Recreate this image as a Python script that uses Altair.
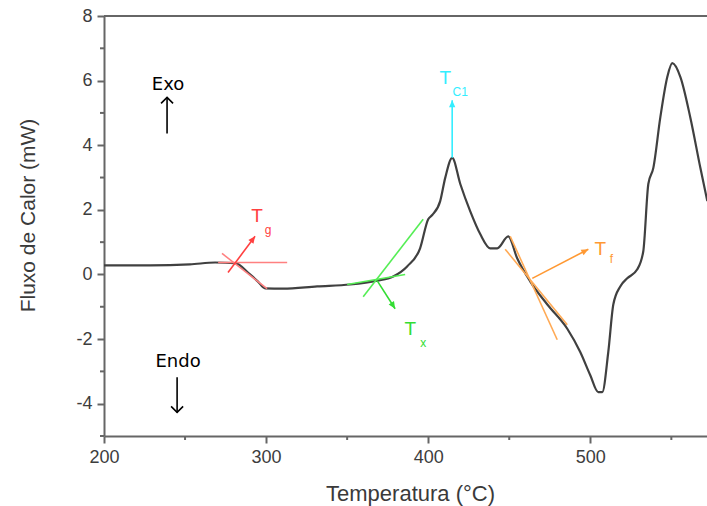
import altair as alt
import pandas as pd

# DSC curve
temp = [200, 228.4, 253, 268.5, 280.9, 290.1, 295, 299.4, 310.5, 331.5, 351.9, 368.5, 378.4,
        387, 395, 400, 402.5, 407.4, 410.5, 414.8, 419.8, 425.9, 432.1, 438.3, 442.6, 449.4,
        454.9, 463, 473.5, 485.8, 493.8, 500, 504.9, 507.4, 511.1, 514.2, 518.5, 522.8, 529,
        532.7, 535.8, 538.9, 543.2, 547.5, 550.6, 555.6, 561.7, 567.9, 572.2]
flow = [0.28, 0.28, 0.31, 0.37, 0.35, 0.0, -0.22, -0.43, -0.44, -0.37, -0.31, -0.19, -0.06,
        0.25, 0.81, 1.71, 1.84, 2.27, 2.99, 3.61, 2.80, 1.96, 1.25, 0.81, 0.81, 1.18,
        0.50, -0.22, -0.93, -1.68, -2.40, -3.12, -3.64, -3.64, -2.40, -0.93, -0.37, -0.12, 0.16,
        0.72, 2.80, 3.30, 4.86, 6.11, 6.54, 6.11, 4.86, 3.30, 2.27]

# axis ticks
x_major = [200, 300, 400, 500]
x_minor = [250, 350, 450, 550]
y_major = [-4, -2, 0, 2, 4, 6, 8]
y_minor = [-5, -3, -1, 1, 3, 5, 7]

# annotation segments: id, x, y, colour
seg_id = ["g1", "g1", "g2", "g2", "g3", "g3",
          "x1", "x1", "x2", "x2", "x3", "x3",
          "c1", "c1",
          "f1", "f1", "f2", "f2", "f3", "f3"]
seg_x = [270.4, 313, 272.8, 300.6, 276.5, 293.2,
         350, 385.8, 359.9, 396.9, 368.5, 379.6,
         414.8, 414.8,
         450.6, 479.6, 447.5, 485.8, 464.2, 498.8]
seg_y = [0.37, 0.37, 0.65, -0.44, 0.06, 1.18,
         -0.31, 0.0, -0.69, 1.71, -0.19, -1.06,
         3.61, 5.39,
         1.18, -2.02, 0.78, -1.56, -0.12, 0.78]
seg_col = ["#ff8080", "#ff8080", "#ff8080", "#ff8080", "#ff4040", "#ff4040",
           "#55ee55", "#55ee55", "#55ee55", "#55ee55", "#33dd33", "#33dd33",
           "#33eeff", "#33eeff",
           "#ffaa55", "#ffaa55", "#ffaa55", "#ffaa55", "#ff9933", "#ff9933"]

# arrow heads
head_x = [293.2, 379.6, 414.8, 498.8]
head_y = [1.18, -1.06, 5.39, 0.78]
head_ang = [36.5, 147.3, 0, 62.6]
head_col = ["#ff4040", "#33dd33", "#33eeff", "#ff9933"]

# labels
lab_text = ["T", "g", "T", "x", "T", "C1", "T", "f"]
lab_x = [294.4, 301.2, 388.9, 396.9, 410.5, 419.8, 506.2, 513.0]
lab_y = [1.81, 1.37, -1.68, -2.12, 6.07, 5.64, 0.78, 0.47]
lab_size = [19, 12, 19, 12, 19, 12, 19, 12]
lab_col = ["#ff4040", "#ff4040", "#33dd33", "#33dd33", "#33eeff", "#33eeff", "#ff9933", "#ff9933"]

# Exo / Endo
ee_text = ["Exo", "Endo"]
ee_x = [239.5, 245.7]
ee_y = [5.86, -2.71]
ee_arrow_id = ["exo", "exo", "endo", "endo"]
ee_arrow_x = [238.9, 238.9, 245.1, 245.1]
ee_arrow_y = [4.36, 5.48, -3.18, -4.27]
ee_head_x = [238.9, 245.1]
ee_head_y = [5.48, -4.27]
ee_head_ang = [0, 180]

curve_df = pd.DataFrame({"t": temp, "f": flow, "o": range(len(temp))})
seg_df = pd.DataFrame({"id": seg_id, "x": seg_x, "y": seg_y, "c": seg_col})
head_df = pd.DataFrame({"x": head_x, "y": head_y, "a": head_ang, "c": head_col})
lab_df = pd.DataFrame({"t": lab_text, "x": lab_x, "y": lab_y, "s": lab_size, "c": lab_col})
ee_df = pd.DataFrame({"t": ee_text, "x": ee_x, "y": ee_y})
eea_df = pd.DataFrame({"id": ee_arrow_id, "x": ee_arrow_x, "y": ee_arrow_y})
eeh_df = pd.DataFrame({"x": ee_head_x, "y": ee_head_y, "a": ee_head_ang})
xmin_df = pd.DataFrame({"v": x_minor})
ymin_df = pd.DataFrame({"v": y_minor})

AX = "#666666"
xs = alt.Scale(domain=[200, 572], nice=False, zero=False)
ys = alt.Scale(domain=[-5, 8], nice=False, zero=False)

xaxis = alt.Axis(
    values=x_major, labelExpr="toString(datum.value)", tickSize=7,
    title="Temperatura (°C)", titleFontSize=22, titleFont="Liberation Sans",
    titleFontWeight="normal", titleColor="#3a3a3a",
    titleX=306, titleY=57, titleAlign="center", titleBaseline="middle",
    labelFont="Liberation Sans", labelFontSize=18, labelColor="#3d3d3d", labelPadding=5,
    labelFlush=False, labelOverlap=False,
    domainColor=AX, domainWidth=2, tickColor=AX, tickWidth=2, grid=False,
)
yaxis = alt.Axis(
    values=y_major, labelExpr="toString(datum.value)", tickSize=7,
    title="Fluxo de Calor (mW)", titleFontSize=21, titleFont="Liberation Sans",
    titleFontWeight="normal", titleColor="#3a3a3a",
    titleX=-76, titleY=199, titleAlign="center", titleBaseline="middle", titleAngle=-90,
    labelFont="Liberation Sans", labelFontSize=18, labelColor="#3d3d3d", labelPadding=5,
    labelFlush=False, labelOverlap=False,
    domainColor=AX, domainWidth=2, tickColor=AX, tickWidth=2, grid=False,
)

curve = alt.Chart(curve_df).mark_line(color="#404040", strokeWidth=2.2, clip=True,
                                      interpolate="monotone").encode(
    x=alt.X("t:Q", scale=xs, axis=xaxis),
    y=alt.Y("f:Q", scale=ys, axis=yaxis),
    order="o:Q",
)

frame = alt.Chart(curve_df).mark_rule(color=AX, strokeWidth=2).encode(
    y=alt.datum(8)
)

xminor = alt.Chart(xmin_df).mark_rule(color=AX, strokeWidth=2, clip=False).encode(
    x=alt.X("v:Q"), y=alt.value(420), y2=alt.value(424)
)
yminor = alt.Chart(ymin_df).mark_rule(color=AX, strokeWidth=2, clip=False).encode(
    y=alt.Y("v:Q"), x=alt.value(-4), x2=alt.value(0)
)

segs = alt.Chart(seg_df).mark_line(strokeWidth=1.6).encode(
    x=alt.X("x:Q"), y=alt.Y("y:Q"),
    detail="id:N", color=alt.Color("c:N", scale=None),
)

heads = alt.Chart(head_df).mark_point(
    shape="M0,0L-0.45,1L0.45,1Z", filled=True, size=196, opacity=1
).encode(
    x=alt.X("x:Q"), y=alt.Y("y:Q"),
    angle=alt.Angle("a:Q", scale=None), color=alt.Color("c:N", scale=None),
)

labels = alt.Chart(lab_df).mark_text(font="Liberation Sans", align="center", baseline="middle").encode(
    x=alt.X("x:Q"), y=alt.Y("y:Q"), text="t:N",
    size=alt.Size("s:Q", scale=None), color=alt.Color("c:N", scale=None),
)

ee_text_l = alt.Chart(ee_df).mark_text(font="DejaVu Sans", fontSize=18, color="black",
                                       align="center", baseline="middle").encode(
    x=alt.X("x:Q"), y=alt.Y("y:Q"), text="t:N",
)

ee_arrows = alt.Chart(eea_df).mark_line(color="black", strokeWidth=1.6).encode(
    x=alt.X("x:Q"), y=alt.Y("y:Q"), detail="id:N",
)

ee_heads = alt.Chart(eeh_df).mark_point(
    shape="M-1,1L0,0L1,1", filled=False, size=144, color="black", strokeWidth=1.6, opacity=1
).encode(
    x=alt.X("x:Q"), y=alt.Y("y:Q"),
    angle=alt.Angle("a:Q", scale=None),
)

chart = alt.layer(
    curve, frame, xminor, yminor, segs, heads, labels, ee_text_l, ee_arrows, ee_heads
).properties(
    width=603, height=420,
    autosize=alt.AutoSizeParams(type="none"),
    padding={"left": 104, "top": 16, "right": 0, "bottom": 70},
).configure_view(stroke=None).configure(background="white")

chart.save("out.html", embed_options={"renderer": "svg", "actions": False})
